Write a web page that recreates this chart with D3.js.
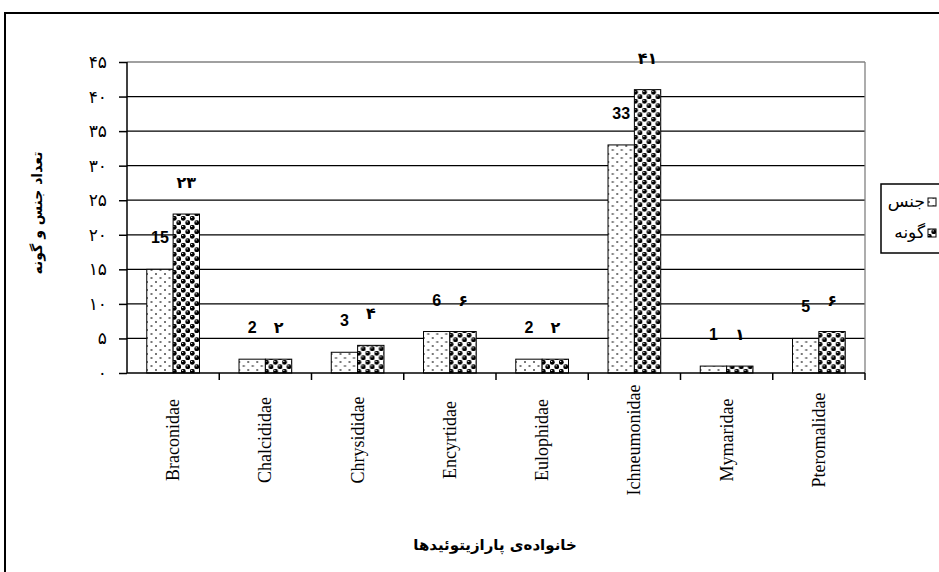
<!DOCTYPE html>
<html>
<head>
<meta charset="utf-8">
<script src="https://cdn.jsdelivr.net/npm/d3@7"></script>
<style>
  body { margin: 0; background: #fff; }
  svg { display: block; }
</style>
</head>
<body>
<div id="chart"></div>
<script>
// families of parasitoids (x categories)
const families = ["Braconidae", "Chalcididae", "Chrysididae", "Encyrtidae", "Eulophidae",
  "Ichneumonidae", "Mymaridae", "Pteromalidae"];
// number of genera (جنس) and species (گونه)
const genusCounts = [15, 2, 3, 6, 2, 33, 1, 5];
const speciesCounts = [23, 2, 4, 6, 2, 41, 1, 6];
const seriesNames = ["جنس", "گونه"];
const yTicks = [0, 5, 10, 15, 20, 25, 30, 35, 40, 45];

const width = 939, height = 572;
const plot = { left: 127, right: 865, top: 62, bottom: 373 };

const toFa = n => String(n).replace(/\d/g, d => "۰۱۲۳۴۵۶۷۸۹"[d]);

const svg = d3.select("#chart").append("svg")
  .attr("width", width).attr("height", height);

// patterns
const defs = svg.append("defs");
const dots = defs.append("pattern").attr("id", "dots")
  .attr("patternUnits", "userSpaceOnUse").attr("width", 9).attr("height", 8);
dots.append("rect").attr("width", 9).attr("height", 8).attr("fill", "#fff");
dots.append("rect").attr("x", 1).attr("y", 1).attr("width", 2).attr("height", 2).attr("fill", "#777");
dots.append("rect").attr("x", 5.5).attr("y", 5).attr("width", 2).attr("height", 2).attr("fill", "#777");

const balls = defs.append("pattern").attr("id", "balls")
  .attr("patternUnits", "userSpaceOnUse").attr("width", 9).attr("height", 9);
balls.append("rect").attr("width", 9).attr("height", 9).attr("fill", "#d8d8d8");
balls.append("rect").attr("x", 4.5).attr("width", 4.5).attr("height", 4.5).attr("fill", "#fff");
balls.append("rect").attr("y", 4.5).attr("width", 4.5).attr("height", 4.5).attr("fill", "#fff");
[[2.25, 2.25], [6.75, 6.75]].forEach(([cx, cy]) => {
  balls.append("circle").attr("cx", cx).attr("cy", cy).attr("r", 2.4).attr("fill", "#000");
  balls.append("circle").attr("cx", cx - 0.6).attr("cy", cy - 0.9).attr("r", 0.7).attr("fill", "#fff");
});
const fills = ["url(#dots)", "url(#balls)"];

// outer frame
svg.append("rect").attr("x", 5).attr("y", 13).attr("width", 960).attr("height", 600)
  .attr("fill", "none").attr("stroke", "#000").attr("stroke-width", 2);

const x = d3.scaleBand().domain(families).range([plot.left, plot.right]);
const xSub = d3.scaleBand().domain([0, 1]).range([0, x.bandwidth()]).paddingOuter(0.75);
const y = d3.scaleLinear().domain([0, 45]).range([plot.bottom, plot.top]);

// grid lines
svg.append("g").selectAll("line").data(yTicks.filter(t => t > 0)).join("line")
  .attr("x1", plot.left).attr("x2", plot.right)
  .attr("y1", d => y(d)).attr("y2", d => y(d))
  .attr("stroke", d => d === 45 ? "#808080" : "#000").attr("stroke-width", 1.3);
svg.append("line").attr("x1", plot.right).attr("x2", plot.right)
  .attr("y1", plot.top).attr("y2", plot.bottom).attr("stroke", "#808080").attr("stroke-width", 1.3);

// bars
const rows = families.map((f, i) => ({ family: f, values: [genusCounts[i], speciesCounts[i]] }));
const groups = svg.append("g").selectAll("g").data(rows).join("g")
  .attr("transform", d => `translate(${x(d.family)},0)`);
groups.selectAll("rect").data(d => d.values.map((v, k) => ({ v, k }))).join("rect")
  .attr("x", d => xSub(d.k)).attr("width", xSub.bandwidth())
  .attr("y", d => y(d.v)).attr("height", d => y(0) - y(d.v))
  .attr("fill", d => fills[d.k]).attr("stroke", "#000").attr("stroke-width", 1);

// value labels
groups.selectAll("text").data(d => d.values.map((v, k) => ({ v, k }))).join("text")
  .attr("x", d => xSub(d.k) + xSub.bandwidth() / 2)
  .attr("y", d => y(d.v) - 26)
  .attr("text-anchor", "middle")
  .attr("font-family", d => d.k === 0 ? "Liberation Sans, Arial, sans-serif" : "DejaVu Sans, sans-serif")
  .attr("font-weight", "bold")
  .attr("font-size", d => d.k === 0 ? 16 : 16)
  .text(d => d.k === 0 ? d.v : toFa(d.v));

// y axis
const yAxis = svg.append("g").attr("transform", `translate(${plot.left},0)`)
  .call(d3.axisLeft(y).tickValues(yTicks).tickSize(8).tickPadding(12).tickFormat(toFa));
yAxis.selectAll("path, line").attr("stroke", "#000").attr("stroke-width", 1.5);
yAxis.select("path").attr("d", `M0,${plot.top}V${plot.bottom}`);
yAxis.selectAll("text").attr("font-family", "DejaVu Sans, sans-serif").attr("font-size", 17).attr("fill", "#000");

// x axis
const xAxis = svg.append("g").attr("transform", `translate(0,${plot.bottom})`);
xAxis.append("line").attr("x1", plot.left).attr("x2", plot.right)
  .attr("stroke", "#000").attr("stroke-width", 1.5);
xAxis.selectAll("line.tick").data(families).join("line").attr("class", "tick")
  .attr("x1", d => x(d) + x.bandwidth()).attr("x2", d => x(d) + x.bandwidth())
  .attr("y1", 0).attr("y2", 7).attr("stroke", "#000").attr("stroke-width", 1.5);
xAxis.selectAll("text").data(families).join("text")
  .attr("transform", d => `translate(${x(d) + x.bandwidth() / 2 + 6},67) rotate(-90)`)
  .attr("text-anchor", "middle")
  .attr("font-family", "Liberation Serif, Times New Roman, serif")
  .attr("font-size", 18)
  .text(d => d);

// axis titles
svg.append("text").attr("transform", "translate(42,213) rotate(-90)")
  .attr("text-anchor", "middle").attr("font-family", "DejaVu Sans, sans-serif")
  .attr("font-weight", "bold").attr("font-size", 14).text("تعداد جنس و گونه");
svg.append("text").attr("x", 495).attr("y", 550)
  .attr("text-anchor", "middle").attr("font-family", "DejaVu Sans, sans-serif")
  .attr("font-weight", "bold").attr("font-size", 15).text("خانواده‌ی پارازیتوئیدها");

// legend
const legend = svg.append("g");
legend.append("rect").attr("x", 881).attr("y", 184).attr("width", 80).attr("height", 69)
  .attr("fill", "#fff").attr("stroke", "#000").attr("stroke-width", 1.5);
const legendY = [202, 233];
seriesNames.forEach((name, k) => {
  legend.append("rect").attr("x", 928).attr("y", legendY[k] - 4).attr("width", 8).attr("height", 8)
    .attr("fill", fills[k]).attr("stroke", "#000").attr("stroke-width", 1);
  legend.append("text").attr("x", 925).attr("y", legendY[k] + 5)
    .attr("text-anchor", "end").attr("font-family", "DejaVu Sans, sans-serif")
    .attr("font-size", 17).text(name);
});
</script>
</body>
</html>
